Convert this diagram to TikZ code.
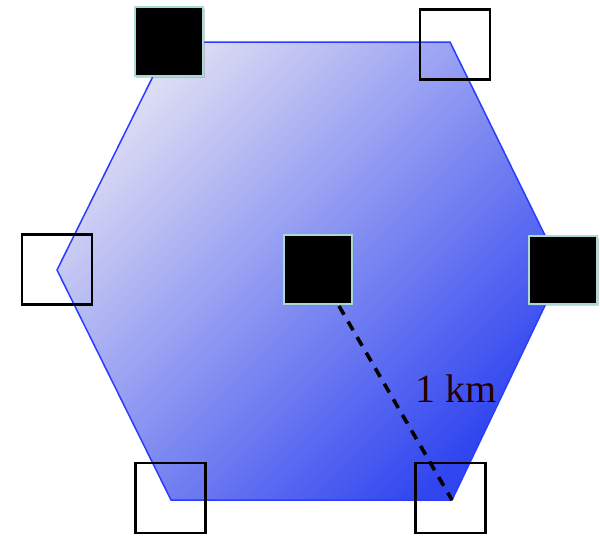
\documentclass[tikz,border=0pt]{standalone}
\usepackage{fontspec}
\setmainfont{Liberation Serif}
\usetikzlibrary{shadows}
\definecolor{hexlight}{HTML}{DCDCF3}
\definecolor{hexdark}{HTML}{3045F0}
\definecolor{hexedge}{HTML}{2A3CFF}
\definecolor{blackedge}{HTML}{A8DAD6}
\tikzset{
  blacksq/.style={draw=blackedge, fill=black, line width=2.4pt, minimum size=68.5pt, inner sep=0pt,
    drop shadow={opacity=0.35, shadow xshift=1.5pt, shadow yshift=-2pt}},
  whitesq/.style={draw=black, line width=2.2pt, minimum size=70pt, inner sep=0pt},
  hexfill/.style={top color=hexlight, bottom color=hexdark, shading angle=45},
  hexline/.style={draw=hexedge, line width=1.5pt, line join=miter},
  distline/.style={draw=black, line width=3.6pt, dash pattern=on 10pt off 8pt},
}
\begin{document}
\begin{tikzpicture}[x=1pt, y=-1pt]
  \useasboundingbox (0,0) rectangle (600,538);
  % hexagon vertices
  \coordinate (v1) at (170,42);
  \coordinate (v2) at (450,42);
  \coordinate (v3) at (562,270);
  \coordinate (v4) at (452,500);
  \coordinate (v5) at (171,500);
  \coordinate (v6) at (57,270);
  \shade[hexfill] (v1) -- (v2) -- (v3) -- (v4) -- (v5) -- (v6) -- cycle;
  \draw[hexline] (v1) -- (v2) -- (v3) -- (v4) -- (v5) -- (v6) -- cycle;
  % squares
  \node[blacksq] (tl) at (169,41.5) {};
  \node[whitesq] (tr) at (455,44.5) {};
  \node[whitesq] (l) at (57,269.5) {};
  \node[blacksq] (c) at (318,269.5) {};
  \node[blacksq] (r) at (563,270) {};
  \node[whitesq] (bl) at (170.5,498) {};
  \node[whitesq] (br) at (450.5,498) {};
  % distance
  \coordinate (ds) at (339,306);
  \draw[distline] (ds) -- (v4);
  \node[text=black!85!red, font=\fontsize{40}{48}\selectfont, inner sep=0pt] (km) at (456,389) {1 km};
\end{tikzpicture}
\end{document}
